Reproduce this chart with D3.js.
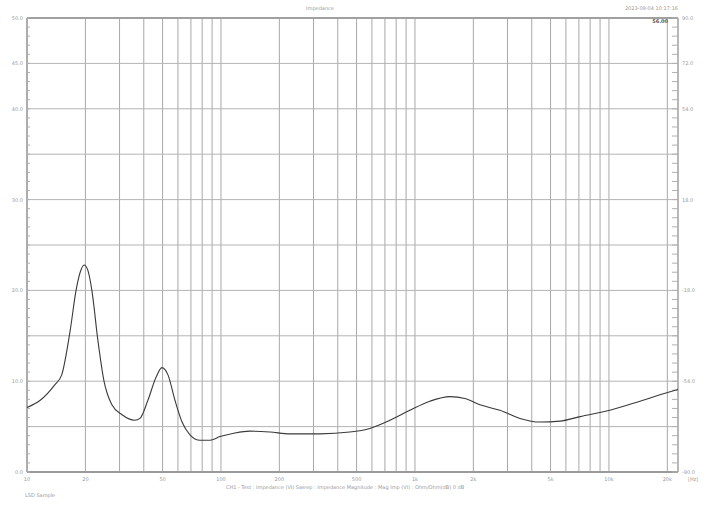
<!DOCTYPE html>
<html>
<head>
<meta charset="utf-8">
<script src="https://cdn.jsdelivr.net/npm/d3@7"></script>
<style>
  body { margin: 0; background: #fff; }
  text { font-family: "DejaVu Sans", sans-serif; fill: #9a9a9a; }
</style>
</head>
<body>
<div id="chart"></div>
<script>
// Impedance magnitude (Ohm), log frequency axis
const freqs = [10, 11.7, 13.9, 15.1, 16.7, 17.9, 18.8, 19.7, 20.6, 21.6, 23.2, 24.9, 27.4, 30.9,
  36.0, 38.2, 42.0, 46.2, 49.6, 53.3, 57.9, 63.0, 69.2, 78.0, 87.8, 98.9, 118, 141, 179, 227,
  324, 462, 586, 743, 942, 1195, 1515, 1811, 2163, 2743, 3478, 4408, 5589, 7090, 10120,
  14450, 18320, 22690];
const impedance = [7.1, 7.9, 9.6, 10.7, 15.6, 20.0, 22.0, 22.8, 22.2, 20.0, 14.5, 10.1, 7.4, 6.3,
  5.7, 5.9, 7.9, 10.4, 11.5, 10.7, 7.9, 5.5, 4.1, 3.5, 3.5, 3.9, 4.3, 4.5, 4.4, 4.2,
  4.2, 4.4, 4.8, 5.7, 6.8, 7.8, 8.3, 8.1, 7.4, 6.8, 5.9, 5.5, 5.6, 6.1, 6.8,
  7.8, 8.5, 9.1];

const xGrid = [10, 20, 30, 40, 50, 60, 70, 80, 90, 100, 200, 300, 400, 500, 600, 700, 800, 900,
  1000, 2000, 3000, 4000, 5000, 6000, 7000, 8000, 9000, 10000, 20000];
const xLabelValues = [10, 20, 50, 100, 200, 500, 1000, 2000, 5000, 10000, 20000];
const xLabels = ["10", "20", "50", "100", "200", "500", "1k", "2k", "5k", "10k", "20k"];
const yGrid = [0, 5, 10, 15, 20, 25, 30, 35, 40, 45, 50];
const yLabelValues = [0, 10, 20, 30, 40, 45, 50];
const yRightLabels = ["-90.0", "-54.0", "-18.0", "18.0", "54.0", "72.0", "90.0"];

const width = 705, height = 508;
const margin = {left: 27, right: 27, top: 18, bottom: 36};

const svg = d3.select("#chart").append("svg")
  .attr("width", width).attr("height", height);

const x = d3.scaleLog().domain([10, 22700]).range([margin.left, width - margin.right]);
const y = d3.scaleLinear().domain([0, 50]).range([height - margin.bottom, margin.top]);

// grid
svg.append("g").selectAll("line").data(xGrid).join("line")
  .attr("x1", d => x(d)).attr("x2", d => x(d))
  .attr("y1", y(50)).attr("y2", y(0))
  .attr("stroke", "#a8a8a8").attr("stroke-width", 1);

svg.append("g").selectAll("line").data(yGrid).join("line")
  .attr("x1", x.range()[0]).attr("x2", x.range()[1])
  .attr("y1", d => y(d)).attr("y2", d => y(d))
  .attr("stroke", "#b4b4b4").attr("stroke-width", 1);

// frame
svg.append("line").attr("x1", x.range()[0]).attr("x2", x.range()[1])
  .attr("y1", y(50)).attr("y2", y(50)).attr("stroke", "#a0a0a0").attr("stroke-width", 2);
svg.append("line").attr("x1", x.range()[0]).attr("x2", x.range()[1])
  .attr("y1", y(0)).attr("y2", y(0)).attr("stroke", "#9a9a9a").attr("stroke-width", 2);
svg.append("line").attr("x1", x.range()[0]).attr("x2", x.range()[0])
  .attr("y1", y(50)).attr("y2", y(0)).attr("stroke", "#a0a0a0").attr("stroke-width", 1.5);
svg.append("line").attr("x1", x.range()[1]).attr("x2", x.range()[1])
  .attr("y1", y(50)).attr("y2", y(0)).attr("stroke", "#a0a0a0").attr("stroke-width", 1.5);

// minor ticks on both sides
const minor = d3.range(0, 50.01, 1);
svg.append("g").selectAll("line").data(minor).join("line")
  .attr("x1", x.range()[0]).attr("x2", x.range()[0] + 3)
  .attr("y1", d => y(d)).attr("y2", d => y(d))
  .attr("stroke", "#b0b0b0");
svg.append("g").selectAll("line").data(minor).join("line")
  .attr("x1", x.range()[1] - 6).attr("x2", x.range()[1])
  .attr("y1", d => y(d)).attr("y2", d => y(d))
  .attr("stroke", "#b0b0b0");

// axis labels
svg.append("g").selectAll("text").data(xLabelValues).join("text")
  .attr("x", d => x(d)).attr("y", y(0) + 9)
  .attr("text-anchor", "middle").attr("font-size", 5)
  .text((d, i) => xLabels[i]);
svg.append("text").attr("x", x.range()[1] + 10).attr("y", y(0) + 9)
  .attr("font-size", 5).text("[Hz]");

svg.append("g").selectAll("text").data(yLabelValues).join("text")
  .attr("x", margin.left - 4).attr("y", d => y(d) + 2)
  .attr("text-anchor", "end").attr("font-size", 5)
  .text(d => d.toFixed(1));
svg.append("g").selectAll("text").data(yLabelValues).join("text")
  .attr("x", x.range()[1] + 4).attr("y", d => y(d) + 2)
  .attr("font-size", 5)
  .text((d, i) => yRightLabels[i]);

// curve
const line = d3.line()
  .x((d, i) => x(freqs[i]))
  .y(d => y(d))
  .curve(d3.curveMonotoneX);
svg.append("path").datum(impedance)
  .attr("d", line)
  .attr("fill", "none").attr("stroke", "#3a3a3a").attr("stroke-width", 1.1);

// titles and notes
svg.append("text").attr("x", 320).attr("y", 10).attr("text-anchor", "middle")
  .attr("font-size", 5).text("Impedance");
svg.append("text").attr("x", 678).attr("y", 10).attr("text-anchor", "end")
  .attr("font-size", 5).text("2023-09-04 10:17:16");
svg.append("text").attr("x", 668).attr("y", 23).attr("text-anchor", "end")
  .attr("font-size", 5).attr("font-weight", "bold").style("fill", "#555").text("56.00");
svg.append("text").attr("x", 345).attr("y", 489).attr("text-anchor", "middle")
  .attr("font-size", 5)
  .text("CH1 - Test : Impedance (VI) Sweep : Impedance Magnitude : Mag Imp (VI) : Ohm/Ohm(dB) 0 dB");
svg.append("text").attr("x", 25).attr("y", 497)
  .attr("font-size", 5).text("LSD Sample");
</script>
</body>
</html>
